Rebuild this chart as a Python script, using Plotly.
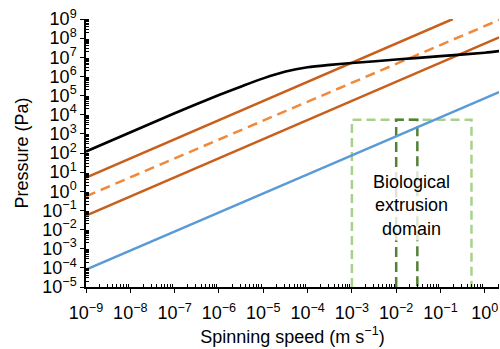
import plotly.graph_objects as go

# Spinning speed (m/s) vs pressure (Pa)
viscous_speed = [1e-9, 1e-7, 1e-6, 3.2e-6, 1e-5, 3.2e-5, 1e-4, 3.2e-4, 1e-3, 1e-2, 1e-1, 1.0, 2.1]
viscous_pressure = [1.2e2, 1.2e4, 1.07e5, 3.0e5, 7.9e5, 1.8e6, 3.0e6, 4.0e6, 5.0e6, 7.6e6, 1.15e7, 1.74e7, 2.1e7]

upper_speed = [1e-9, 0.19]
upper_pressure = [5.2, 1e9]

mid_speed = [1e-9, 2.1]
mid_pressure = [0.55, 8.9e8]

lower_speed = [1e-9, 2.1]
lower_pressure = [0.054, 1.1e8]

water_speed = [1e-9, 2.1]
water_pressure = [8.1e-5, 1.5e5]

# Biological extrusion domain (outer and inner boxes)
bio_speed_range = [1e-3, 0.5]
bio_inner_speed_range = [1e-2, 0.03]
bio_pressure_range = [1e-5, 5.5e3]

x_exps = list(range(-9, 1))
y_exps = list(range(-5, 10))


def power_label(e):
    return "10<sup>" + ("\u2212" if e < 0 else "") + str(abs(e)) + "</sup>"


def box(xr, yr):
    xs = [xr[0], xr[0], xr[1], xr[1]]
    ys = [yr[0], yr[1], yr[1], yr[0]]
    return xs, ys


FONT = "Liberation Sans, Arial, Helvetica, sans-serif"
ORANGE = "#C8601C"
ORANGE_LIGHT = "#F0893A"
BLUE = "#5B9BD5"
GREEN_LIGHT = "#A9D18E"
GREEN_DARK = "#548235"

fig = go.Figure()

bx, by = box(bio_speed_range, bio_pressure_range)
fig.add_trace(go.Scatter(x=bx, y=by, mode="lines",
                         line=dict(color=GREEN_LIGHT, width=2.5, dash="9px,5px")))
bx, by = box(bio_inner_speed_range, bio_pressure_range)
fig.add_trace(go.Scatter(x=bx, y=by, mode="lines",
                         line=dict(color=GREEN_DARK, width=2.5, dash="10px,5px")))

fig.add_trace(go.Scatter(x=water_speed, y=water_pressure, mode="lines",
                         line=dict(color=BLUE, width=2.5)))
fig.add_trace(go.Scatter(x=lower_speed, y=lower_pressure, mode="lines",
                         line=dict(color=ORANGE, width=2.5)))
fig.add_trace(go.Scatter(x=mid_speed, y=mid_pressure, mode="lines",
                         line=dict(color=ORANGE_LIGHT, width=2.5, dash="10px,6px")))
fig.add_trace(go.Scatter(x=upper_speed, y=upper_pressure, mode="lines",
                         line=dict(color=ORANGE, width=2.5)))
fig.add_trace(go.Scatter(x=viscous_speed, y=viscous_pressure, mode="lines",
                         line=dict(color="black", width=2.6, shape="spline", smoothing=0.8)))

fig.add_annotation(x=-1.66, y=-0.74, xref="x", yref="y",
                   text="Biological<br>extrusion<br>domain", showarrow=False,
                   font=dict(family=FONT, size=18, color="black"),
                   bgcolor="rgba(255,255,255,0.8)", borderpad=1)

minor_x = [k * 10.0 ** e for e in range(-9, 1) for k in range(2, 10)]
minor_y = [k * 10.0 ** e for e in range(-5, 9) for k in range(2, 10)]

fig.update_layout(
    width=500, height=349,
    margin=dict(l=86, r=1, t=19, b=62),
    paper_bgcolor="white", plot_bgcolor="white",
    showlegend=False,
    font=dict(family=FONT, size=18, color="black"),
    xaxis=dict(
        type="log", range=[-9, 0.32],
        tickmode="array", tickvals=[10.0 ** e for e in x_exps],
        ticktext=[power_label(e) for e in x_exps],
        ticks="outside", ticklen=4, tickwidth=1.2, tickcolor="black",
        ticklabelstandoff=5,
        minor=dict(tickmode="array", tickvals=minor_x, ticks="inside",
                   ticklen=3, tickwidth=1, tickcolor="black", showgrid=False),
        showline=True, linecolor="black", linewidth=1.5,
        showgrid=False, zeroline=False,
        tickfont=dict(family=FONT, size=18),
        title=dict(text="Spinning speed (m s<sup>\u22121</sup>)",
                   font=dict(family=FONT, size=18), standoff=8),
    ),
    yaxis=dict(
        type="log", range=[-5, 9],
        tickmode="array", tickvals=[10.0 ** e for e in y_exps],
        ticktext=[power_label(e) for e in y_exps],
        ticks="outside", ticklen=4, tickwidth=1.2, tickcolor="black",
        minor=dict(tickmode="array", tickvals=minor_y, ticks="inside",
                   ticklen=3, tickwidth=1, tickcolor="black", showgrid=False),
        showline=True, linecolor="black", linewidth=1.5,
        showgrid=False, zeroline=False,
        tickfont=dict(family=FONT, size=18),
        title=dict(text="Pressure (Pa)", font=dict(family=FONT, size=18), standoff=9),
    ),
)

fig.write_html("out.html")
